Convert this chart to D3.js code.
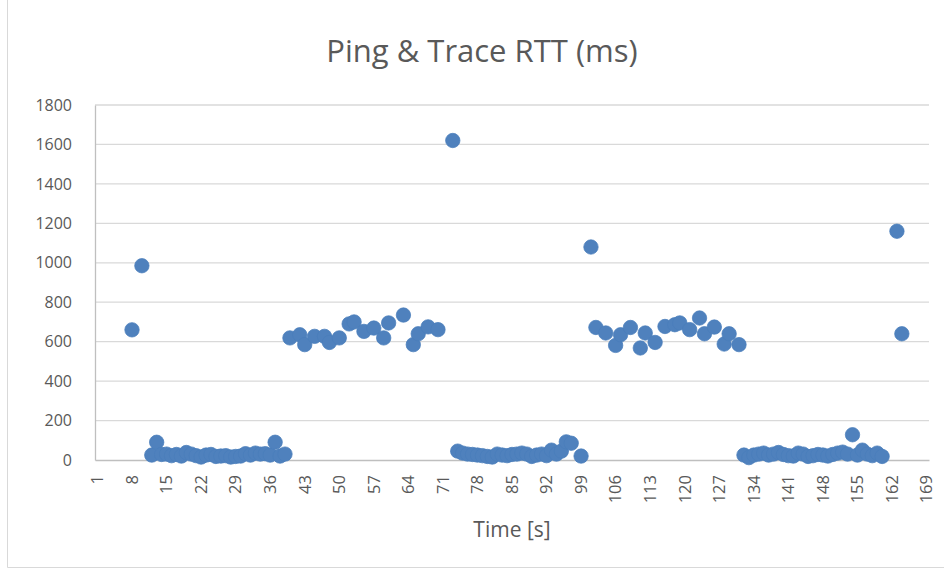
<!DOCTYPE html>
<html>
<head>
<meta charset="utf-8">
<script src="https://cdn.jsdelivr.net/npm/d3@7"></script>
<style>
  body { margin: 0; background: #fff; }
  text { font-family: "Open Sans", "Noto Sans", sans-serif; fill: #595959; }
</style>
</head>
<body>
<svg width="944" height="571"></svg>
<script>
// time (s) of each sample, and its round trip time (ms)
var times = [8, 10,
  12, 13, 14, 15, 16, 17, 18, 19, 20, 21, 22, 23, 24, 25, 26, 27, 28, 29, 30, 31, 32, 33, 34, 35, 36, 37, 38, 39,
  40, 42, 43, 45, 47, 48, 50, 52, 53, 55, 57, 59, 60, 63, 65, 66, 68, 70,
  73,
  74, 75, 76, 77, 78, 79, 80, 81, 82, 83, 84, 85, 86, 87, 88, 89, 90, 91, 92, 93, 94, 95, 96, 97, 99,
  101, 102, 104, 106, 107, 109, 111, 112, 114, 116, 118, 119, 121, 123, 124, 126, 128, 129, 131,
  132, 133, 134, 135, 136, 137, 138, 139, 140, 141, 142, 143, 144, 145, 146, 147, 148, 149, 150, 151, 152, 153, 154, 155, 156, 157, 158, 159, 160,
  163, 164];

var rtt = [660, 985,
  25, 90, 28, 30, 22, 28, 20, 38, 30, 22, 15, 25, 28, 18, 20, 22, 15, 18, 20, 32, 25, 35, 30, 32, 25, 90, 20, 30,
  619, 635, 585, 627, 627, 596, 619, 690, 700, 652, 669, 619, 695, 735, 585, 640, 675, 661,
  1620,
  45, 35, 30, 28, 25, 22, 18, 15, 30, 25, 22, 28, 30, 35, 30, 18, 25, 30, 22, 50, 30, 45, 92, 85, 20,
  1080, 672, 644, 581, 635, 672, 568, 644, 596, 677, 686, 695, 661, 720, 640, 674, 588, 640, 585,
  25, 12, 25, 30, 35, 25, 30, 38, 28, 22, 20, 35, 30, 18, 22, 28, 25, 20, 28, 35, 40, 30, 128, 25, 50, 30, 22, 35, 18,
  1160, 640];

var categories = d3.range(1, 170);
var yTicks = [0, 200, 400, 600, 800, 1000, 1200, 1400, 1600, 1800];

var svg = d3.select("svg");

var plotLeft = 95, plotRight = 929, plotTop = 105, plotBottom = 460;

var x = d3.scaleBand()
    .domain(categories)
    .range([plotLeft, plotRight]);

var y = d3.scaleLinear()
    .domain([0, 1800])
    .range([plotBottom, plotTop]);

// chart frame (only left and bottom edges are inside the picture)
svg.append("path")
    .attr("d", "M7.5,0V567.5H944")
    .attr("fill", "none")
    .attr("stroke", "#d9d9d9");

svg.append("text")
    .attr("x", 482)
    .attr("y", 62)
    .attr("text-anchor", "middle")
    .attr("font-size", 31)
    .text("Ping & Trace RTT (ms)");

// gridlines
svg.append("g")
    .selectAll("line")
    .data(yTicks.slice(1))
    .enter().append("line")
      .attr("x1", plotLeft)
      .attr("x2", plotRight)
      .attr("y1", function(d) { return y(d); })
      .attr("y2", function(d) { return y(d); })
      .attr("stroke", "#d9d9d9")
      .attr("stroke-width", 1.3);

var yAxis = svg.append("g")
    .attr("transform", "translate(" + plotLeft + ",0)")
    .call(d3.axisLeft(y).tickValues(yTicks).tickFormat(d3.format("d")).tickSize(0).tickPadding(23));
yAxis.select(".domain").attr("stroke", "#bfbfbf").attr("stroke-width", 1.3);
yAxis.selectAll("text").attr("font-size", 16).attr("fill", "#595959");

var xAxis = svg.append("g")
    .attr("transform", "translate(0," + plotBottom + ")")
    .call(d3.axisBottom(x)
      .tickValues(categories.filter(function(d) { return (d - 1) % 7 == 0; }))
      .tickSize(0));
xAxis.select(".domain").attr("stroke", "#bfbfbf").attr("stroke-width", 1.3);
xAxis.selectAll("text")
    .attr("font-size", 16.5)
    .attr("fill", "#595959")
    .attr("text-anchor", "end")
    .attr("transform", "rotate(-90)")
    .attr("x", -15)
    .attr("y", 0)
    .attr("dy", "0.35em");

svg.append("text")
    .attr("x", (plotLeft + plotRight) / 2)
    .attr("y", 537)
    .attr("text-anchor", "middle")
    .attr("font-size", 21)
    .text("Time [s]");

var points = times.map(function(t, i) { return { t: t, v: rtt[i] }; });

svg.append("g")
    .selectAll("circle")
    .data(points)
    .enter().append("circle")
      .attr("cx", function(d) { return x(d.t) + x.bandwidth() / 2; })
      .attr("cy", function(d) { return y(d.v); })
      .attr("r", 7.2)
      .attr("fill", "#4f81bd")
      .attr("stroke", "#4a7ebb")
      .attr("stroke-width", 0.75);
</script>
</body>
</html>
